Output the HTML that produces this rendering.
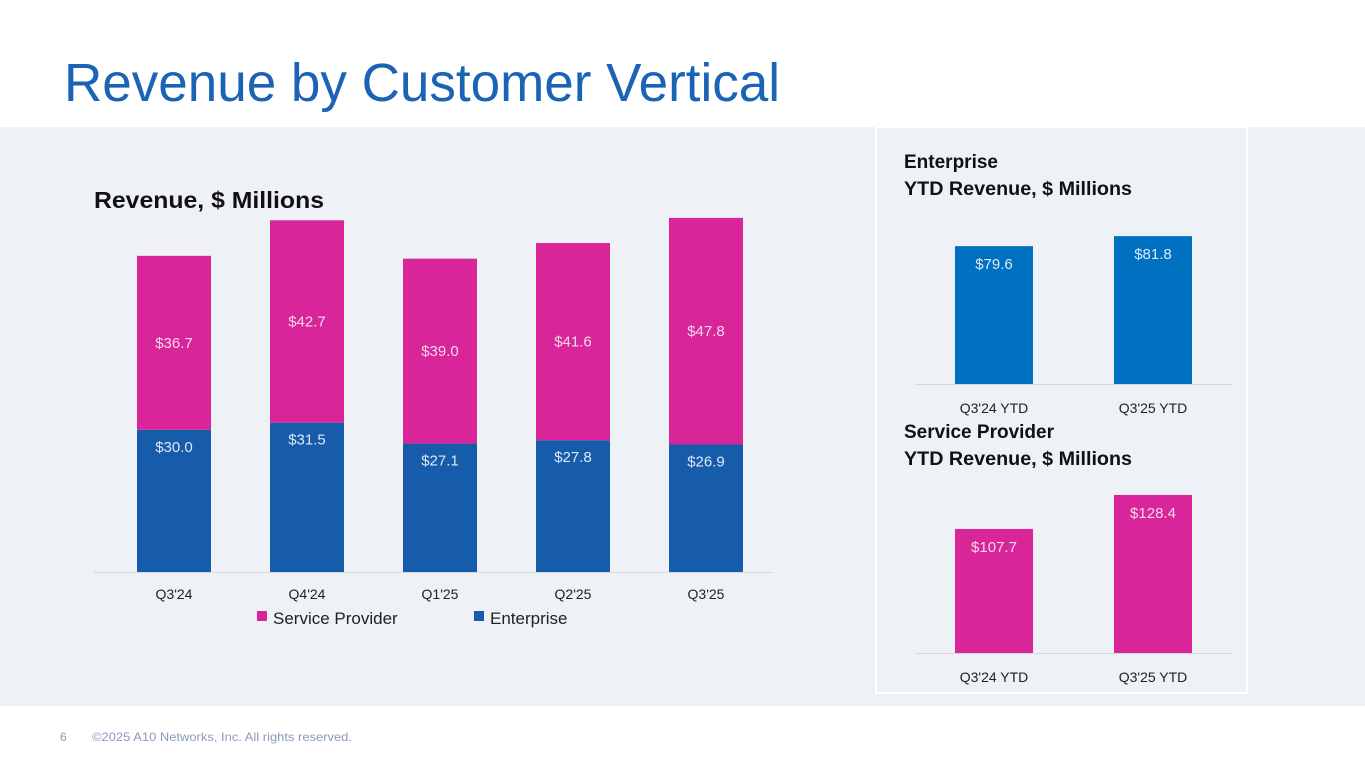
<!DOCTYPE html>
<html><head><meta charset="utf-8"><style>
html,body{margin:0;padding:0;background:#fff;}
svg{display:block;font-family:"Liberation Sans",sans-serif;}
</style></head><body>
<svg id="s" width="1365" height="768" viewBox="0 0 1365 768">
<rect x="0" y="0" width="1365" height="768" fill="#fff"/>
<text x="64" y="101" font-size="54" fill="#1a63b5" textLength="716" lengthAdjust="spacingAndGlyphs">Revenue by Customer Vertical</text>
<rect x="0" y="127" width="1365" height="579" fill="#eef1f6"/>
<rect x="876" y="127" width="371" height="566" fill="#eef1f6" stroke="#fff" stroke-width="2"/>
<text x="94" y="208" font-size="23" font-weight="bold" fill="#111" textLength="230" lengthAdjust="spacingAndGlyphs">Revenue, $ Millions</text>
<text x="904" y="168" font-size="19" font-weight="bold" fill="#111">Enterprise</text>
<text x="904" y="195" font-size="19" font-weight="bold" fill="#111" textLength="228" lengthAdjust="spacingAndGlyphs">YTD Revenue, $ Millions</text>
<text x="904" y="438" font-size="19" font-weight="bold" fill="#111">Service Provider</text>
<text x="904" y="465" font-size="19" font-weight="bold" fill="#111" textLength="228" lengthAdjust="spacingAndGlyphs">YTD Revenue, $ Millions</text>
<g id="main"></g><g id="ent"></g><g id="sp"></g>
<rect x="257" y="611" width="10" height="10" fill="#d9259a"/>
<text x="273" y="624" font-size="17" fill="#222">Service Provider</text>
<rect x="474" y="611" width="10" height="10" fill="#175bab"/>
<text x="490" y="624" font-size="17" fill="#222">Enterprise</text>
<text x="60" y="741" font-size="12" fill="#8a9ab8">6</text>
<text x="92" y="741" font-size="12" fill="#8a9ab8" textLength="260" lengthAdjust="spacingAndGlyphs">©2025 A10 Networks, Inc. All rights reserved.</text>
</svg>
<script>
const categories = ["Q3'24","Q4'24","Q1'25","Q2'25","Q3'25"];
const enterpriseValues = [30.0,31.5,27.1,27.8,26.9];
const serviceProviderValues = [36.7,42.7,39.0,41.6,47.8];
const ytdCategories = ["Q3'24 YTD","Q3'25 YTD"];
const enterpriseYtd = [79.6,81.8];
const serviceProviderYtd = [107.7,128.4];

const NS="http://www.w3.org/2000/svg";
function mk(tag,attrs,parent,txt){const e=document.createElementNS(NS,tag);for(const k in attrs)e.setAttribute(k,attrs[k]);if(txt!==undefined)e.textContent=txt;parent.appendChild(e);return e;}
function fmt(v){return "$"+v.toFixed(1);}

const main=document.getElementById('main');
const base=572, k=4.74, x0=107.5, step=133, bw=74;
const xc=i=>x0+step*i+step/2;
const y=v=>base-v*k;
categories.forEach((c,i)=>{
  const e=enterpriseValues[i], s=serviceProviderValues[i];
  const r1=mk('rect',{x:xc(i)-bw/2,y:y(e),width:bw,height:base-y(e),fill:'#175bab'},main);
  
  
  const r2=mk('rect',{x:xc(i)-bw/2,y:y(e+s),width:bw,height:y(e)-y(e+s),fill:'#d9259a'},main);
  
  
  const t1=mk('text',{x:xc(i),y:y(e)+22,'font-size':15,fill:'#dfe8f5','text-anchor':'middle'},main,fmt(e));
  
  
  const t2=mk('text',{x:xc(i),y:(y(e)+y(e+s))/2+5,'font-size':15,fill:'#f5d8ea','text-anchor':'middle'},main,fmt(s));
  
  
  const t3=mk('text',{x:xc(i),y:base+27,'font-size':14,fill:'#222','text-anchor':'middle'},main,c);
  
  
});
const ax=mk('line',{x1:94,x2:772,y1:base+0.5,y2:base+0.5,stroke:'#d4d8de','stroke-width':1},main);



function ytd(gid,vals,color,bs,kk,mn,label,pref){
  const g=document.getElementById(gid);
  const ctr=[994,1153];
  vals.forEach((v,i)=>{
    const h=(v-mn)*kk;
    const r=mk('rect',{x:ctr[i]-39,y:bs-h,width:78,height:h,fill:color},g);
    
    
    const t=mk('text',{x:ctr[i],y:bs-h+23,'font-size':15,fill:label,'text-anchor':'middle'},g,fmt(v));
    
    
    const tk=mk('text',{x:ctr[i],y:bs+29,'font-size':14,fill:'#222','text-anchor':'middle'},g,ytdCategories[i]);
    
    
  });
  const l=mk('line',{x1:915,x2:1232,y1:bs+0.5,y2:bs+0.5,stroke:'#d4d8de'},g);
  
  
}
ytd('ent',enterpriseYtd,'#0070c0',384,4.55,49.3,'#dfe8f5','enterprise-ytd');
ytd('sp',serviceProviderYtd,'#d9259a',653,1.643,32.2,'#f5d8ea','sp-ytd');
</script>
</body></html>
